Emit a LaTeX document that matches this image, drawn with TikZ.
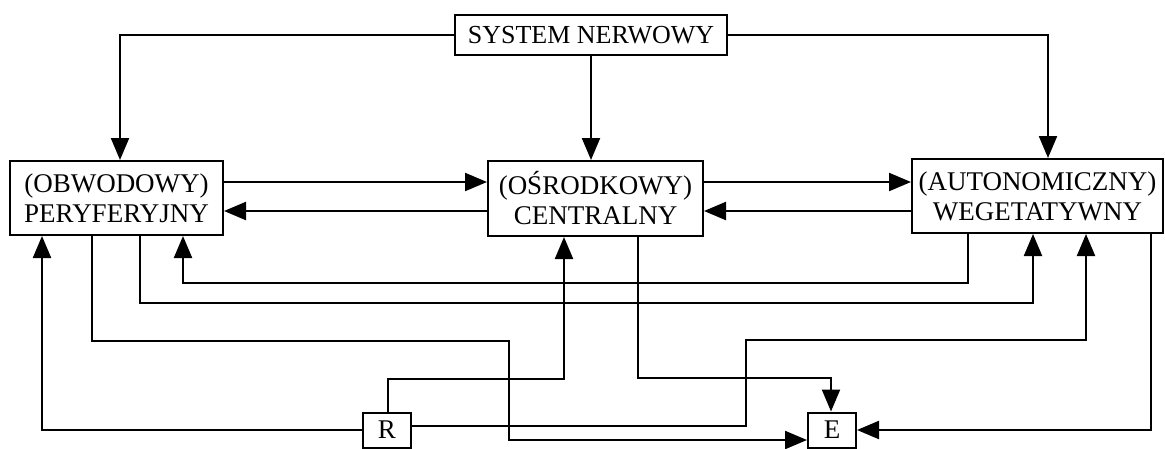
\documentclass[tikz,border=0pt]{standalone}
\usepackage{fontspec}
\setmainfont{Liberation Serif}
\usetikzlibrary{arrows.meta}
\begin{document}
\begin{tikzpicture}[x=1pt,y=-1pt,
  box/.style={draw,line width=2pt,align=center,inner sep=0pt,
    font=\fontsize{27}{30}\selectfont},
  link/.style={line width=2.2pt},
  arr/.style={link,-{Triangle[length=22pt,width=18pt]}}]
\useasboundingbox (0,0) rectangle (1165,448);

% nodes
\node[box,minimum width=272pt,minimum height=40pt,font=\fontsize{26}{30}\selectfont] (S) at (591,35) {SYSTEM NERWOWY};
\node[box,minimum width=213pt,minimum height=74pt] (P) at (116.5,198) {(OBWODOWY)\\PERYFERYJNY};
\node[box,minimum width=215pt,minimum height=75pt] (C) at (595.5,198.5) {(OŚRODKOWY)\\CENTRALNY};
\node[box,minimum width=251pt,minimum height=74pt] (A) at (1037.5,196) {(AUTONOMICZNY)\\WEGETATYWNY};
\node[box,minimum width=48pt,minimum height=35pt] (R) at (387,430) {R};
\node[box,minimum width=48pt,minimum height=35pt] (E) at (832,430) {E};

% from the top box
\draw[arr] (S.west) -| (P.north -| 120,0);
\draw[arr] (S.south) -- (S.south |- C.north);
\draw[arr] (S.east) -| (A.north -| 1048,0);

% between the three systems
\draw[arr] (P.east |- 0,182) -- (C.west |- 0,182);
\draw[arr] (C.west |- 0,211) -- (P.east |- 0,211);
\draw[arr] (C.east |- 0,182) -- (A.west |- 0,182);
\draw[arr] (A.west |- 0,211) -- (C.east |- 0,211);
\draw[arr] (A.south -| 968,0) -- (968,283) -- (183,283) -- (P.south -| 183,0);
\draw[arr] (P.south -| 140,0) -- (140,303) -- (1033,303) -- (A.south -| 1033,0);

% to the effector
\draw[arr] (P.south -| 92,0) -- (92,341) -- (509,341) -- (509,440) -- (E.west |- 0,440);
\draw[arr] (C.south -| 638,0) -- (638,378) -- (831,378) -- (E.north -| 831,0);
\draw[arr] (A.south -| 1151,0) -- (1151,430) -- (E.east |- 0,430);

% from the receptor
\draw[arr] (R.west) -- (42,430) -- (P.south -| 42,0);
\draw[arr] (R.north -| 388,0) -- (388,379) -- (564,379) -- (C.south -| 564,0);
\draw[arr] (R.east |- 0,426) -- (746,426) -- (746,340) -- (1086,340) -- (A.south -| 1086,0);
\end{tikzpicture}
\end{document}
